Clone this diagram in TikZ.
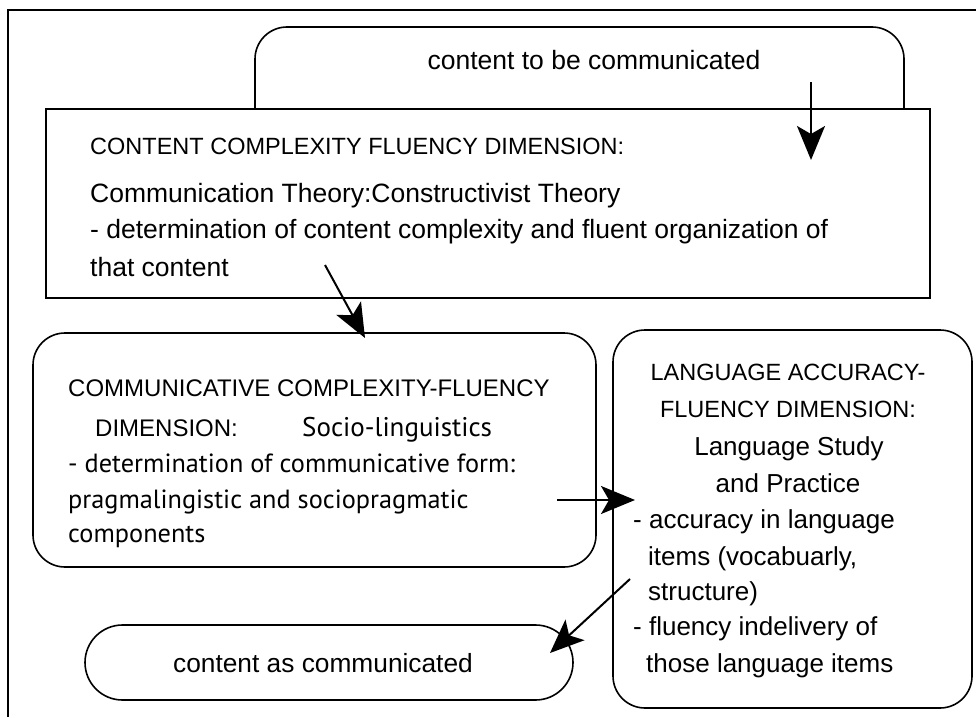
\documentclass[tikz,border=0pt]{standalone}
\usepackage{fontspec}
\setmainfont{Liberation Sans}
\newfontfamily\humanist{PT Sans}
\usetikzlibrary{arrows.meta}
\begin{document}
\begin{tikzpicture}[x=1pt,y=-1pt,
  box/.style={draw, line width=1.6pt, inner sep=0pt, outer sep=0pt},
  capsline/.style={inner sep=0pt, font=\fontsize{23.5}{28}\selectfont},
  txtline/.style={inner sep=0pt, font=\fontsize{26}{31}\selectfont},
  humline/.style={anchor=base west, inner sep=0pt, font=\humanist\fontsize{26.3}{32}\selectfont},
  flow/.style={line width=2pt, -{Stealth[length=34pt,width=28pt,inset=8pt]}}]

\useasboundingbox (0,0) rectangle (976,717);

% frame along the top and left edges
\coordinate (frameTR) at (976,10);
\coordinate (frameTL) at (8,10);
\coordinate (frameBL) at (8,717);
\draw[line width=1.2pt] (frameTR) -- (frameTL) -- (frameBL);

% source box, partly covered by the content box
\node[box, rounded corners=32pt, minimum width=649pt, minimum height=133pt] (source) at (579.5,93.5) {};
\node[txtline, anchor=base, font=\fontsize{26.5}{32}\selectfont] (sourceText) at (594,70) {content to be communicated};

% content complexity box
\node[box, fill=white, minimum width=884pt, minimum height=189pt] (content) at (488,203.5) {};
\node[capsline, anchor=base west] (contentA) at (90,154) {CONTENT COMPLEXITY FLUENCY DIMENSION:};
\node[txtline, anchor=base west, font=\fontsize{26.5}{31}\selectfont] (contentB) at (90,202) {Communication Theory:Constructivist Theory};
\node[txtline, anchor=base west, font=\fontsize{26.5}{31}\selectfont] (contentC) at (90,238) {- determination of content complexity and fluent organization of};
\node[txtline, anchor=base west, font=\fontsize{26.5}{31}\selectfont] (contentD) at (90,276) {that content};

% communicative complexity box
\node[box, rounded corners=32pt, minimum width=563pt, minimum height=234pt] (comm) at (314.5,450) {};
\node[capsline, anchor=base west, font=\fontsize{24}{28}\selectfont] (commA) at (68,396) {COMMUNICATIVE COMPLEXITY-FLUENCY};
\node[capsline, anchor=base west, font=\fontsize{24}{28}\selectfont] (commB) at (95,436) {DIMENSION:};
\node[humline, font=\humanist\fontsize{27}{32}\selectfont] (commC) at (302,436) {Socio-linguistics};
\node[humline] (commD) at (68,472) {- determination of communicative form:};
\node[humline] (commE) at (68,508) {pragmalingistic and sociopragmatic};
\node[humline] (commF) at (68,542) {components};

% language accuracy box
\node[box, rounded corners=32pt, minimum width=359pt, minimum height=378pt] (lang) at (792.5,519) {};
\node[capsline, anchor=base] (langA) at (788,380) {LANGUAGE ACCURACY-};
\node[capsline, anchor=base] (langB) at (788,417) {FLUENCY DIMENSION:};
\node[txtline, anchor=base] (langC) at (789,455) {Language Study};
\node[txtline, anchor=base] (langD) at (788,492) {and Practice};
\node[txtline, anchor=base west] (langE) at (633,528) {- accuracy in language};
\node[txtline, anchor=base west] (langF) at (648,565) {items (vocabuarly,};
\node[txtline, anchor=base west] (langG) at (648,600) {structure)};
\node[txtline, anchor=base west] (langH) at (633,635) {- fluency indelivery of};
\node[txtline, anchor=base west] (langI) at (646,672) {those language items};

% result box
\node[box, rounded corners=37.5pt, minimum width=488pt, minimum height=75pt] (result) at (329,662.5) {};
\node[txtline, anchor=base, font=\fontsize{26.3}{32}\selectfont] (resultText) at (323,672) {content as communicated};

% arrows
\coordinate (a1s) at (811,82);
\coordinate (a1e) at (811,160);
\coordinate (a2s) at (325,265);
\coordinate (a2e) at (365,338);
\coordinate (a3s) at (557,500);
\coordinate (a3e) at (635,500);
\coordinate (a4s) at (630,579);
\coordinate (a4e) at (550,653);
\draw[flow] (a1s) -- (a1e);
\draw[flow] (a2s) -- (a2e);
\draw[flow] (a3s) -- (a3e);
\draw[flow] (a4s) -- (a4e);
\end{tikzpicture}
\end{document}
